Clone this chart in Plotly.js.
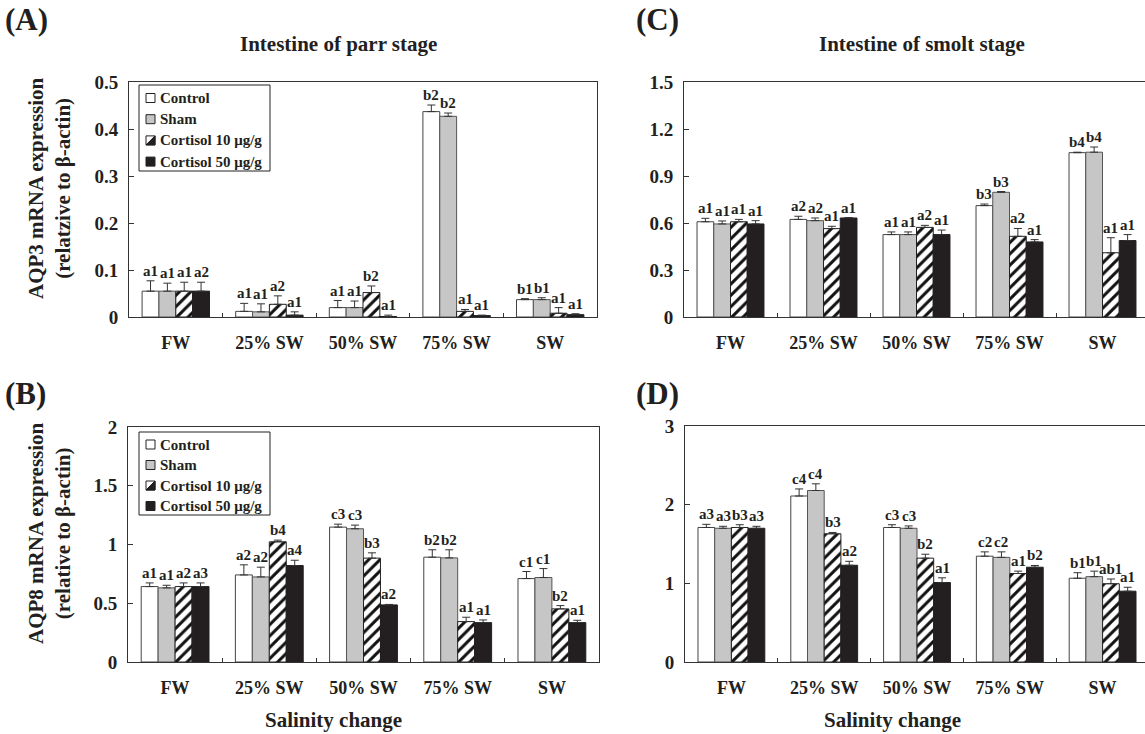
<!DOCTYPE html>
<html><head><meta charset="utf-8">
<script src="https://cdn.plot.ly/plotly-3.0.1.min.js"></script>
<style>html,body{margin:0;padding:0;overflow:hidden;background:#fff}#chart{width:1149px;height:734px}</style>
</head><body><div id="chart"></div>
<script>
// ---------- DATA ----------
const groups = ["FW", "25% SW", "50% SW", "75% SW", "SW"];
const seriesNames = ["Control", "Sham", "Cortisol 10 μg/g", "Cortisol 50 μg/g"];

// (A) AQP3, intestine of parr stage
const aqp3ParrControl    = [0.055, 0.012, 0.020, 0.437, 0.037];
const aqp3ParrControlErr = [0.022, 0.017, 0.015, 0.014, 0.002];
const aqp3ParrSham       = [0.055, 0.011, 0.020, 0.427, 0.037];
const aqp3ParrShamErr    = [0.017, 0.017, 0.014, 0.007, 0.004];
const aqp3ParrC10        = [0.055, 0.027, 0.052, 0.012, 0.008];
const aqp3ParrC10Err     = [0.019, 0.018, 0.014, 0.004, 0.012];
const aqp3ParrC50        = [0.055, 0.004, 0.001, 0.003, 0.005];
const aqp3ParrC50Err     = [0.019, 0.007, 0.003, 0.001, 0.002];
const aqp3ParrLabels = [
  ["a1", "a1", "a1", "b2", "b1"],
  ["a1", "a1", "a1", "b2", "b1"],
  ["a1", "a2", "b2", "a1", "a1"],
  ["a2", "a1", "a1", "a1", "a1"]
];

// (B) AQP8, intestine of parr stage
const aqp8ParrControl    = [0.642, 0.741, 1.148, 0.892, 0.710];
const aqp8ParrControlErr = [0.031, 0.086, 0.025, 0.063, 0.060];
const aqp8ParrSham       = [0.631, 0.724, 1.134, 0.886, 0.719];
const aqp8ParrShamErr    = [0.022, 0.083, 0.031, 0.069, 0.076];
const aqp8ParrC10        = [0.642, 1.023, 0.884, 0.344, 0.452];
const aqp8ParrC10Err     = [0.031, 0.014, 0.045, 0.037, 0.028];
const aqp8ParrC50        = [0.642, 0.821, 0.486, 0.335, 0.335];
const aqp8ParrC50Err     = [0.031, 0.045, 0.004, 0.023, 0.020];
const aqp8ParrLabels = [
  ["a1", "a2", "c3", "b2", "c1"],
  ["a1", "a2", "c3", "b2", "c1"],
  ["a2", "b4", "b3", "a1", "b2"],
  ["a3", "a4", "a2", "a1", "a1"]
];

// (C) AQP3, intestine of smolt stage
const aqp3SmoltControl    = [0.608, 0.623, 0.526, 0.711, 1.049];
const aqp3SmoltControlErr = [0.022, 0.020, 0.017, 0.010, 0.003];
const aqp3SmoltSham       = [0.594, 0.615, 0.526, 0.796, 1.052];
const aqp3SmoltShamErr    = [0.019, 0.017, 0.017, 0.005, 0.033];
const aqp3SmoltC10        = [0.608, 0.564, 0.572, 0.515, 0.410];
const aqp3SmoltC10Err     = [0.015, 0.015, 0.013, 0.050, 0.096];
const aqp3SmoltC50        = [0.594, 0.632, 0.526, 0.479, 0.488];
const aqp3SmoltC50Err     = [0.021, 0.003, 0.029, 0.015, 0.038];
const aqp3SmoltLabels = [
  ["a1", "a2", "a1", "b3", "b4"],
  ["a1", "a2", "a1", "b3", "b4"],
  ["a1", "a1", "a2", "a2", "a1"],
  ["a1", "a1", "a1", "a1", "a1"]
];

// (D) AQP8, intestine of smolt stage
const aqp8SmoltControl    = [1.710, 2.110, 1.710, 1.345, 1.065];
const aqp8SmoltControlErr = [0.040, 0.090, 0.035, 0.055, 0.070];
const aqp8SmoltSham       = [1.700, 2.180, 1.700, 1.330, 1.085];
const aqp8SmoltShamErr    = [0.025, 0.085, 0.030, 0.070, 0.070];
const aqp8SmoltC10        = [1.710, 1.630, 1.320, 1.125, 0.995];
const aqp8SmoltC10Err     = [0.035, 0.017, 0.050, 0.030, 0.060];
const aqp8SmoltC50        = [1.700, 1.230, 1.010, 1.205, 0.900];
const aqp8SmoltC50Err     = [0.025, 0.050, 0.060, 0.022, 0.050];
const aqp8SmoltLabels = [
  ["a3", "c4", "c3", "c2", "b1"],
  ["a3", "c4", "c3", "c2", "b1"],
  ["b3", "b3", "b2", "a1", "ab1"],
  ["a3", "a2", "a1", "b2", "a1"]
];

// axis ticks
const ticksA = [0, 0.1, 0.2, 0.3, 0.4, 0.5];
const tickTextA = ["0", "0.1", "0.2", "0.3", "0.4", "0.5"];
const ticksB = [0, 0.5, 1, 1.5, 2];
const tickTextB = ["0", "0.5", "1", "1.5", "2"];
const ticksC = [0, 0.3, 0.6, 0.9, 1.2, 1.5];
const tickTextC = ["0", "0.3", "0.6", "0.9", "1.2", "1.5"];
const ticksD = [0, 1, 2, 3];
const tickTextD = ["0", "1", "2", "3"];

// ---------- STYLE / LAYOUT ----------
const W = 1149, H = 734;
const FONT = "Liberation Serif, Times New Roman, serif";
const INK = "#231f20";
const bold = (size) => ({family: FONT, size: size, color: INK, weight: "bold"});
const BARGAP = 0.28;
const SHAM_GREY = "#c6c6c6";

const seriesStyle = [
  {color: "#ffffff", line: {color: "#444", width: 1}},
  {color: SHAM_GREY, line: {color: "#555", width: 1}},
  {color: "#ffffff", line: {color: "#222", width: 1},
   pattern: {shape: "/", fgcolor: "#111", bgcolor: "#ffffff", size: 8, solidity: 0.38, fillmode: "replace"}},
  {color: INK, line: {color: INK, width: 1}}
];

const panels = [
  {key: "A", ax: "", vals: [aqp3ParrControl, aqp3ParrSham, aqp3ParrC10, aqp3ParrC50],
   errs: [aqp3ParrControlErr, aqp3ParrShamErr, aqp3ParrC10Err, aqp3ParrC50Err], labels: aqp3ParrLabels,
   px: [129, 597], py: [82, 317], range: [0, 0.5], tv: ticksA, tt: tickTextA,
   legend: {left: 139, top: 85, right: 270, bottom: 171, first: 98, gap: 21.2}},
  {key: "B", ax: "2", vals: [aqp8ParrControl, aqp8ParrSham, aqp8ParrC10, aqp8ParrC50],
   errs: [aqp8ParrControlErr, aqp8ParrShamErr, aqp8ParrC10Err, aqp8ParrC50Err], labels: aqp8ParrLabels,
   px: [128, 599], py: [427, 662], range: [0, 2], tv: ticksB, tt: tickTextB,
   legend: {left: 139, top: 432, right: 270, bottom: 515, first: 444.5, gap: 20.5}},
  {key: "C", ax: "3", vals: [aqp3SmoltControl, aqp3SmoltSham, aqp3SmoltC10, aqp3SmoltC50],
   errs: [aqp3SmoltControlErr, aqp3SmoltShamErr, aqp3SmoltC10Err, aqp3SmoltC50Err], labels: aqp3SmoltLabels,
   px: [684, 1149], py: [82, 317], range: [0, 1.5], tv: ticksC, tt: tickTextC, legend: null},
  {key: "D", ax: "4", vals: [aqp8SmoltControl, aqp8SmoltSham, aqp8SmoltC10, aqp8SmoltC50],
   errs: [aqp8SmoltControlErr, aqp8SmoltShamErr, aqp8SmoltC10Err, aqp8SmoltC50Err], labels: aqp8SmoltLabels,
   px: [685, 1149], py: [426, 662], range: [0, 3], tv: ticksD, tt: tickTextD, legend: null}
];

const traces = [];
const annotations = [];
const shapes = [];
const layout = {
  width: W, height: H,
  margin: {l: 0, r: 0, t: 0, b: 0},
  paper_bgcolor: "#fff", plot_bgcolor: "#fff",
  barmode: "group", bargap: BARGAP, bargroupgap: 0,
  font: bold(15),
  showlegend: false
};

const PX = (x) => x / W;
const PY = (y) => 1 - y / H;

panels.forEach(p => {
  const xa = "xaxis" + p.ax, ya = "yaxis" + p.ax;
  layout[xa] = {
    domain: [PX(p.px[0]), Math.min(1, PX(p.px[1]))],
    anchor: "y" + p.ax, type: "category", range: [-0.5, 4.5],
    showline: true, mirror: true, linecolor: "#333", linewidth: 1,
    ticks: "inside", tickson: "boundaries", ticklen: 4, tickcolor: "#333",
    showgrid: false, zeroline: false, fixedrange: true,
    tickfont: bold(18), ticklabelstandoff: 9
  };
  layout[ya] = {
    domain: [PY(p.py[1]), PY(p.py[0])],
    anchor: "x" + p.ax, range: p.range, tickmode: "array", tickvals: p.tv, ticktext: p.tt,
    showline: true, mirror: true, linecolor: "#333", linewidth: 1,
    ticks: "inside", ticklen: 5, tickcolor: "#333",
    showgrid: false, zeroline: false, fixedrange: true,
    tickfont: bold(19), ticklabelstandoff: 6
  };
  p.vals.forEach((v, si) => {
    traces.push({
      type: "bar", x: groups, y: v, name: seriesNames[si],
      xaxis: "x" + p.ax, yaxis: "y" + p.ax,
      marker: seriesStyle[si],
      error_y: {type: "data", symmetric: false, array: p.errs[si], arrayminus: v.map(() => 0),
                color: "#333", thickness: 1, width: 4},
      hoverinfo: "skip"
    });
    const barW = (1 - BARGAP) / 4;
    v.forEach((val, gi) => {
      annotations.push({
        xref: "x" + p.ax, yref: "y" + p.ax,
        x: gi + (si - 1.5) * barW, y: val + p.errs[si][gi],
        text: p.labels[si][gi], showarrow: false,
        xanchor: "center", yanchor: "bottom", yshift: 0,
        font: bold(15)
      });
    });
  });

  // boxed legend inside panels A and B
  if (p.legend) {
    const L = p.legend;
    shapes.push({type: "rect", xref: "paper", yref: "paper",
      x0: PX(L.left), x1: PX(L.right), y0: PY(L.bottom), y1: PY(L.top),
      line: {color: "#222", width: 1}, fillcolor: "#fff", layer: "above"});
    seriesNames.forEach((nm, si) => {
      const cy = L.first + si * L.gap;
      const sx0 = L.left + 7, sx1 = L.left + 16, sy0 = cy - 4.5, sy1 = cy + 4.5;
      const fill = si === 0 ? "#fff" : si === 1 ? SHAM_GREY : si === 2 ? "#fff" : INK;
      shapes.push({type: "rect", xref: "paper", yref: "paper",
        x0: PX(sx0), x1: PX(sx1), y0: PY(sy1), y1: PY(sy0),
        line: {color: "#222", width: 1}, fillcolor: fill, layer: "above"});
      if (si === 2) {
        shapes.push({type: "path", xref: "paper", yref: "paper", layer: "above",
          path: `M${PX(sx0)},${PY(sy1)} L${PX(sx1)},${PY(sy1)} L${PX(sx1)},${PY(sy0)} Z`,
          fillcolor: INK, line: {color: INK, width: 1}});
      }
      annotations.push({xref: "paper", yref: "paper", x: PX(L.left + 19), y: PY(cy),
        xanchor: "left", yanchor: "middle", text: nm, showarrow: false, font: bold(15)});
    });
  }
});

// panel letters, titles, axis titles
const paperText = (txt, xpx, ypx, size, opts) => Object.assign({
  xref: "paper", yref: "paper", x: PX(xpx), y: PY(ypx), text: txt, showarrow: false,
  xanchor: "left", yanchor: "top", font: bold(size)
}, opts || {});

annotations.push(paperText("(A)", 3, 0, 31));
annotations.push(paperText("(B)", 3, 374, 31));
annotations.push(paperText("(C)", 634, 0, 31));
annotations.push(paperText("(D)", 634, 374, 31));
annotations.push(paperText("Intestine of parr stage", 338, 44, 21, {xanchor: "center", yanchor: "middle"}));
annotations.push(paperText("Intestine of smolt stage", 922, 44, 21, {xanchor: "center", yanchor: "middle"}));
annotations.push(paperText("AQP3 mRNA expression<br>(relatzive to β-actin)", 49, 188, 21,
  {xanchor: "center", yanchor: "middle", textangle: -90}));
annotations.push(paperText("AQP8 mRNA expression<br>(relative to β-actin)", 49, 533, 21,
  {xanchor: "center", yanchor: "middle", textangle: -90}));
annotations.push(paperText("Salinity change", 333, 720, 21, {xanchor: "center", yanchor: "middle"}));
annotations.push(paperText("Salinity change", 892, 720, 21, {xanchor: "center", yanchor: "middle"}));

layout.annotations = annotations;
layout.shapes = shapes;

Plotly.newPlot("chart", traces, layout, {staticPlot: true, displayModeBar: false});
</script>
</body></html>
